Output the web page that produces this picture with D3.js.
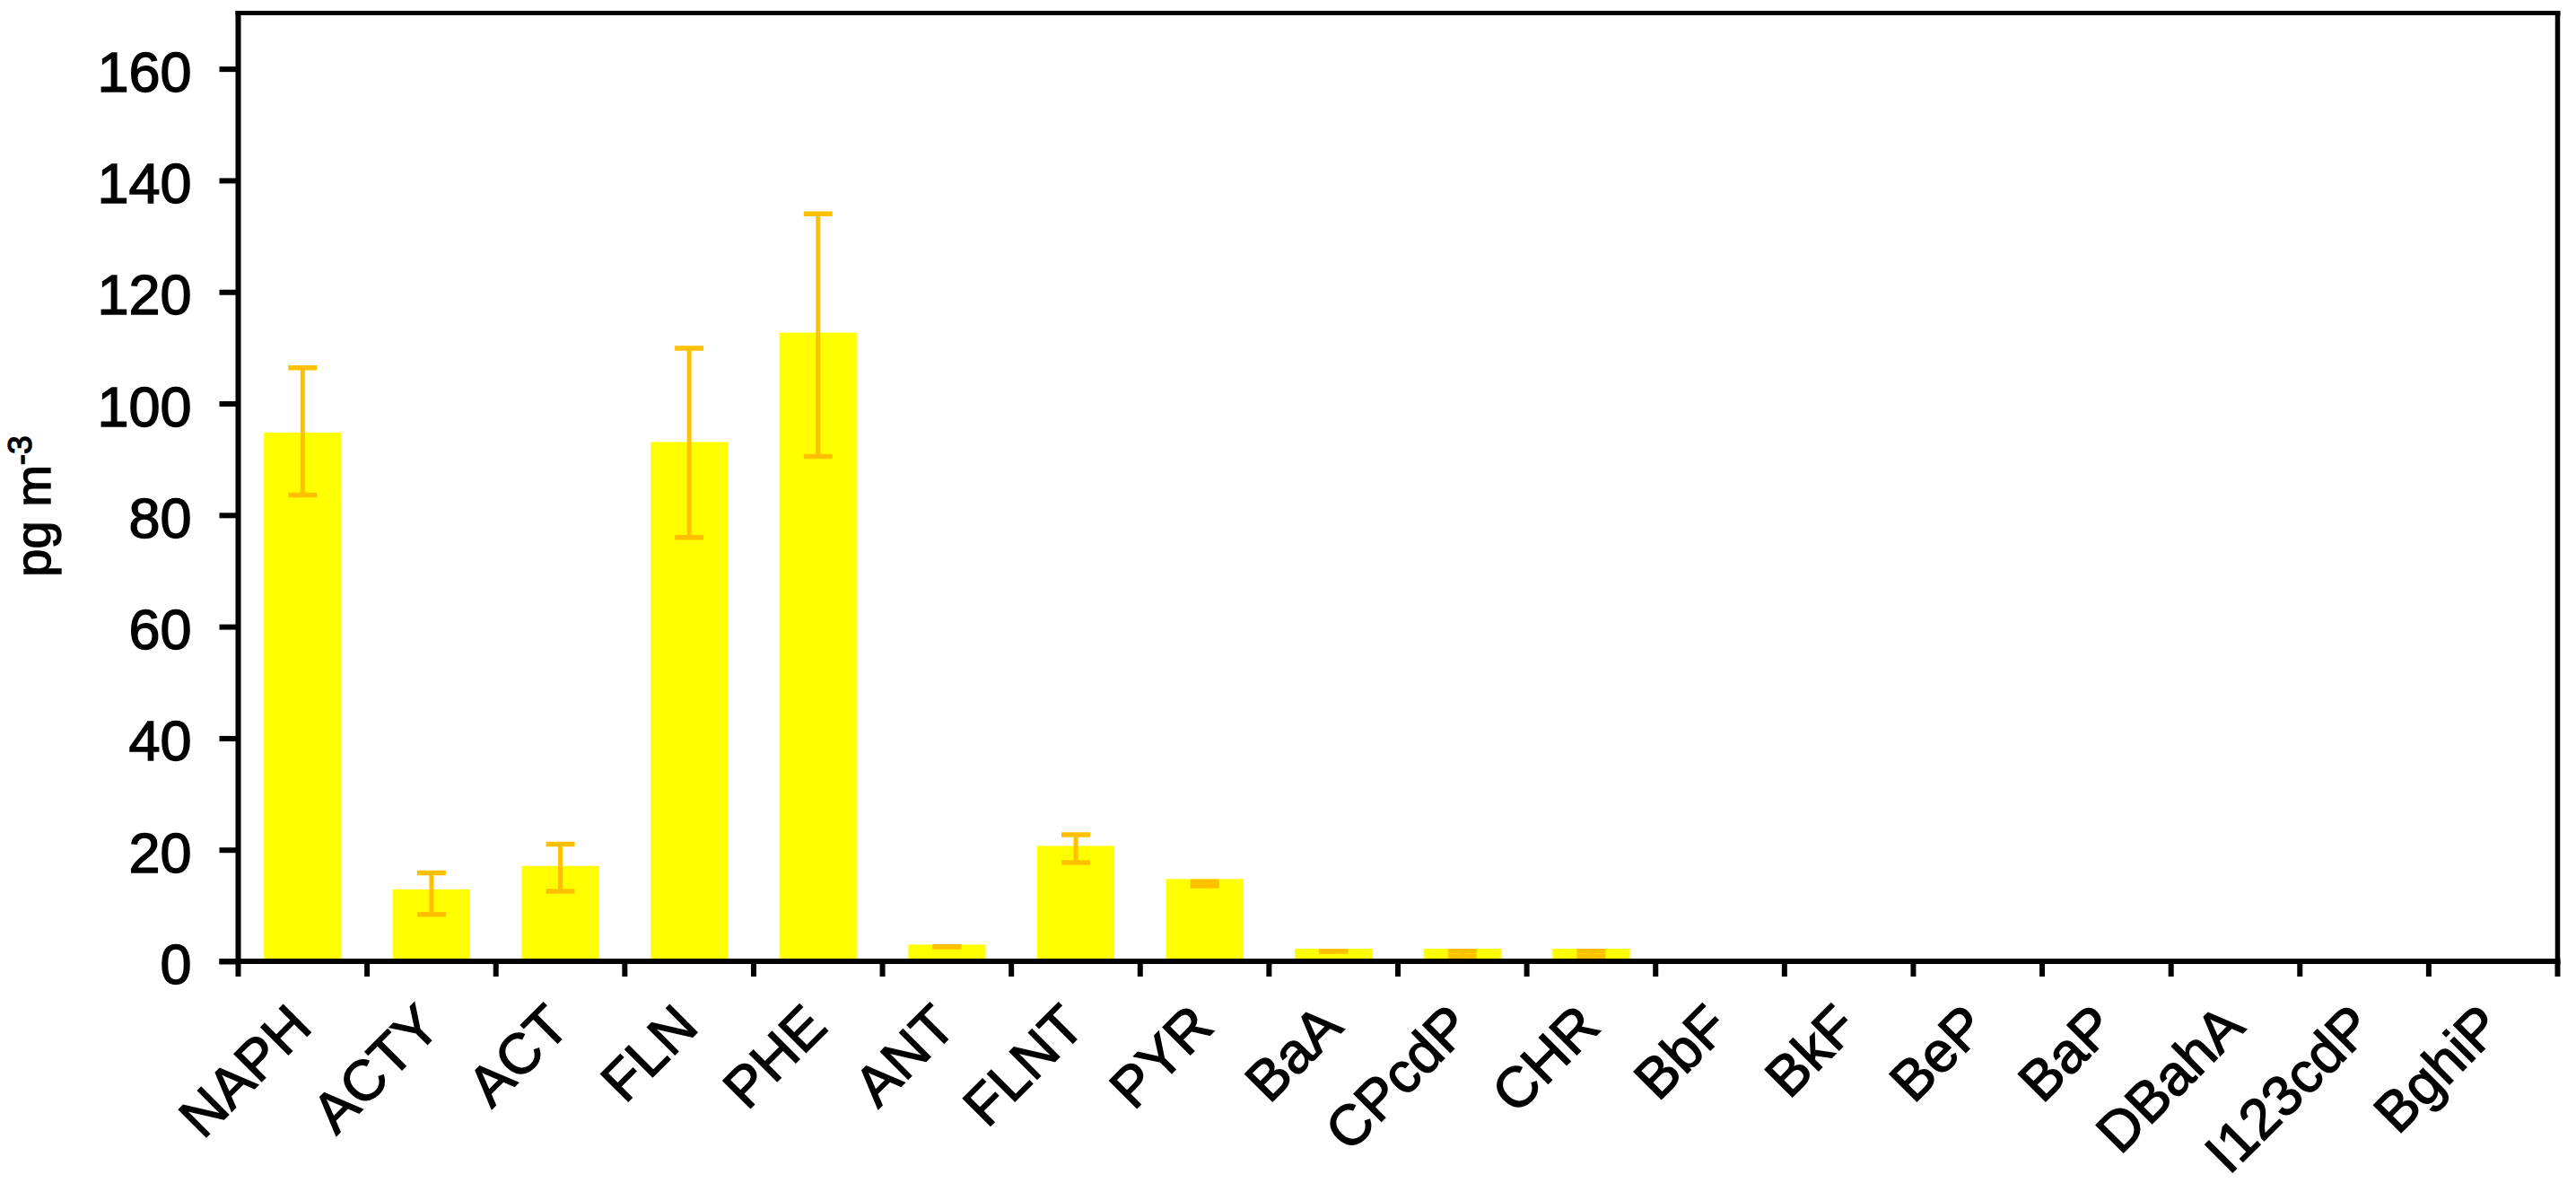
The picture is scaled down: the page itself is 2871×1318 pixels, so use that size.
<!DOCTYPE html>
<html>
<head>
<meta charset="utf-8">
<script src="https://cdn.jsdelivr.net/npm/d3@7"></script>
<style>
  html, body { margin: 0; padding: 0; background: #fff; }
  svg { display: block; }
  text { font-family: "Liberation Sans", Arial, sans-serif; fill: #000; stroke: #000; stroke-width: 1.4px; }
</style>
</head>
<body>
<svg id="chart" width="2871" height="1318"></svg>
<script>
const categories = ["NAPH","ACTY","ACT","FLN","PHE","ANT","FLNT","PYR","BaA","CPcdP","CHR","BbF","BkF","BeP","BaP","DBahA","I123cdP","BghiP"];
const values  = [94.8, 12.9, 17.1, 93.1, 112.7, 3.0, 20.7, 14.75, 2.25, 2.25, 2.25, 0, 0, 0, 0, 0, 0, 0];
const errLow  = [83.6, 8.4, 12.55, 76.0, 90.5, 2.6, 17.7, 13.5, 1.8, 0.9, 0.9, null, null, null, null, null, null, null];
const errHigh = [106.4, 15.85, 21.0, 109.9, 134.0, 2.6, 22.7, 14.3, 1.8, 1.8, 1.8, null, null, null, null, null, null, null];
const yTicks = [0, 20, 40, 60, 80, 100, 120, 140, 160];
const yMax = 170;
const yLabel = "pg m";
const yLabelSup = "-3";

(function () {
const svg = d3.select("#chart");
const pLeft = 265.5, pRight = 2850.5, pTop = 14.5, pBottom = 1071;

const x = d3.scaleBand().domain(categories).range([pLeft, pRight]).padding(0);
const y = d3.scaleLinear().domain([0, yMax]).range([pBottom, pTop]);

const barW = x.bandwidth() * 0.6;
const data = categories.map((c, i) => ({c, v: values[i], lo: errLow[i], hi: errHigh[i]}));

// bars
svg.append("g").selectAll("rect")
  .data(data.filter(d => d.v > 0))
  .join("rect")
  .attr("x", d => x(d.c) + (x.bandwidth() - barW) / 2)
  .attr("width", barW)
  .attr("y", d => y(d.v))
  .attr("height", d => y(0) - y(d.v))
  .attr("fill", "#FFFF00");

// error bars
const eb = svg.append("g").attr("stroke", "#FFC000");
const ed = data.filter(d => d.lo !== null);
const capW = 32;
const cx = d => x(d.c) + x.bandwidth() / 2;
eb.selectAll("line.stem").data(ed).join("line").attr("class", "stem")
  .attr("x1", cx).attr("x2", cx)
  .attr("y1", d => y(d.lo)).attr("y2", d => y(d.hi)).attr("stroke-width", 5);
eb.selectAll("line.capl").data(ed).join("line").attr("class", "capl")
  .attr("x1", d => cx(d) - capW / 2).attr("x2", d => cx(d) + capW / 2)
  .attr("y1", d => y(d.lo)).attr("y2", d => y(d.lo)).attr("stroke-width", 5.5);
eb.selectAll("line.caph").data(ed).join("line").attr("class", "caph")
  .attr("x1", d => cx(d) - capW / 2).attr("x2", d => cx(d) + capW / 2)
  .attr("y1", d => y(d.hi)).attr("y2", d => y(d.hi)).attr("stroke-width", 5.5);

// frame top & right
svg.append("line").attr("x1", pLeft - 3).attr("x2", pRight + 3).attr("y1", pTop).attr("y2", pTop)
  .attr("stroke", "#000").attr("stroke-width", 5);
svg.append("line").attr("x1", pRight).attr("x2", pRight).attr("y1", pTop).attr("y2", pBottom)
  .attr("stroke", "#000").attr("stroke-width", 5.5);

// y axis
const yAxis = d3.axisLeft(y).tickValues(yTicks).tickSize(21).tickPadding(31).tickSizeOuter(0);
const gy = svg.append("g").attr("transform", `translate(${pLeft},0)`).call(yAxis);
gy.select(".domain").attr("stroke-width", 6).attr("d", `M0,${pTop - 2.5}V${pBottom + 3}`);
gy.selectAll(".tick line").attr("stroke-width", 6);
gy.selectAll(".tick text").attr("font-size", 63).attr("dy", "0.39em")
  .style("font-family", '"Liberation Sans", Arial, sans-serif');

// x axis
const tickPos = categories.map(c => x(c)).concat([pRight]);
const gx = svg.append("g");
gx.append("line").attr("x1", pLeft - 21).attr("x2", pRight + 3).attr("y1", pBottom).attr("y2", pBottom)
  .attr("stroke", "#000").attr("stroke-width", 6);
gx.selectAll("line.t").data(tickPos).join("line").attr("class", "t")
  .attr("x1", d => d).attr("x2", d => d).attr("y1", pBottom).attr("y2", pBottom + 17)
  .attr("stroke", "#000").attr("stroke-width", 6);
gx.selectAll("text").data(categories).join("text")
  .attr("transform", c => `translate(${x(c) + x.bandwidth() / 2 - 3},${pBottom + 60}) rotate(-45)`)
  .attr("text-anchor", "end")
  .attr("dy", "0.35em")
  .attr("font-size", 63)
  .text(c => c);

// y label
const yl = svg.append("text")
  .attr("transform", `translate(56,564) rotate(-90)`)
  .attr("text-anchor", "middle")
  .attr("font-size", 56);
yl.append("tspan").text(yLabel);
yl.append("tspan").attr("font-size", 37).attr("dy", -21).text(yLabelSup);
})();
</script>
</body>
</html>
